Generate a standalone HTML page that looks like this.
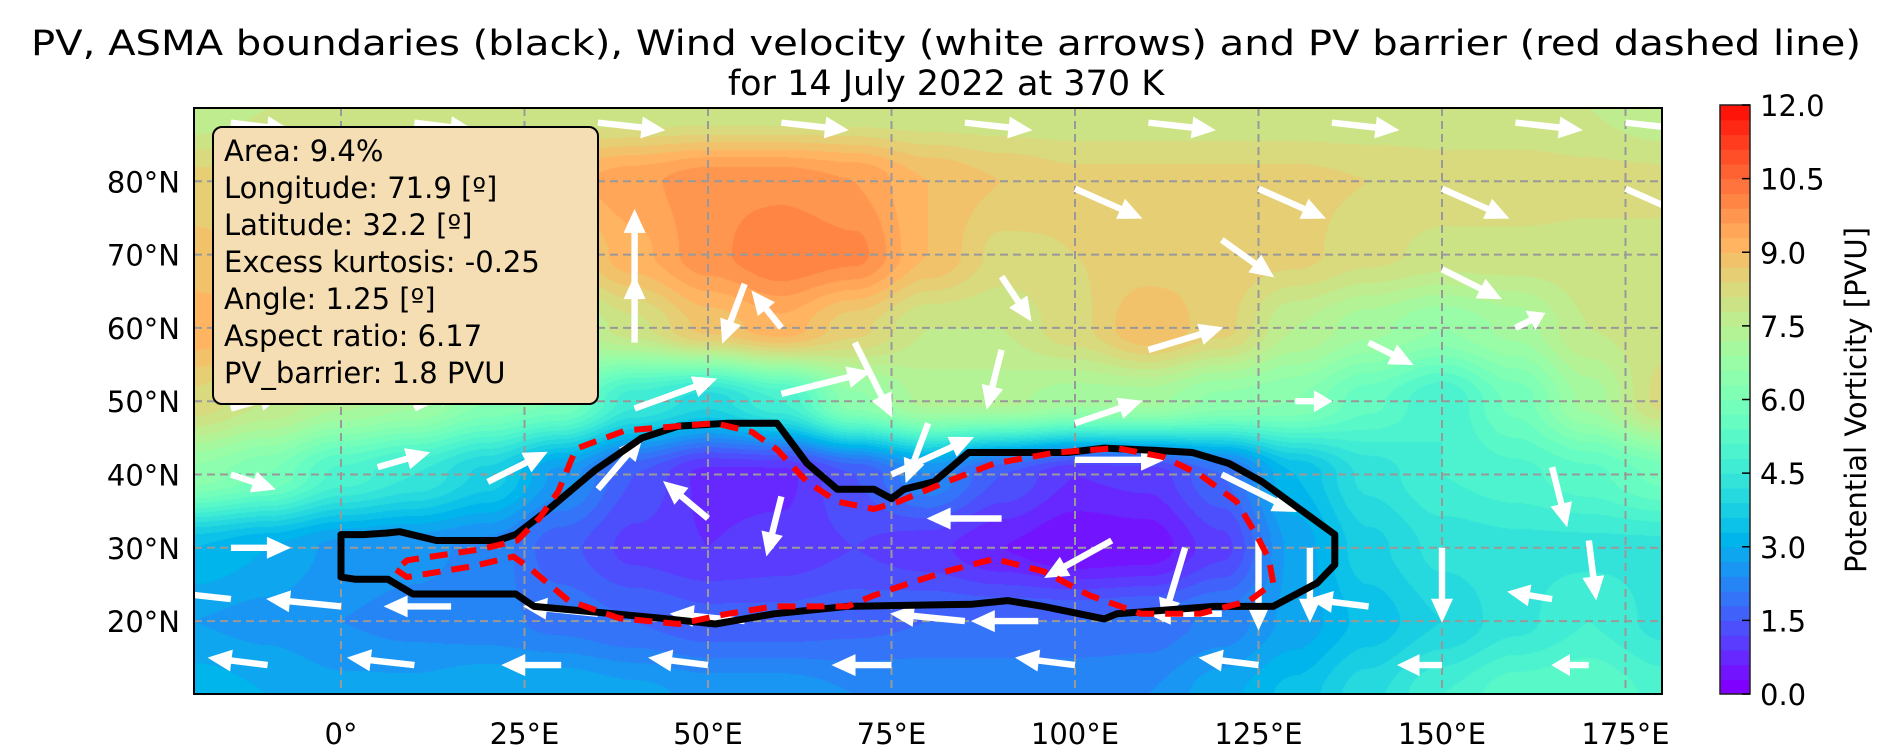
<!DOCTYPE html>
<html><head><meta charset="utf-8">
<style>
html,body{margin:0;padding:0;background:#fff;}
#wrap{position:relative;width:1892px;height:750px;overflow:hidden;font-family:"DejaVu Sans","Liberation Sans",sans-serif;}
#pv{position:absolute;left:194px;top:108px;}
#ov{position:absolute;left:0;top:0;}
</style></head>
<body>
<div id="wrap">
<canvas id="pv" width="1468" height="586"></canvas>
<svg id="ov" width="1892" height="750" xmlns="http://www.w3.org/2000/svg">
<text x="946" y="55" text-anchor="middle" font-size="35" textLength="1830" lengthAdjust="spacingAndGlyphs">PV, ASMA boundaries (black), Wind velocity (white arrows) and PV barrier (red dashed line)</text>
<text x="946" y="95" text-anchor="middle" font-size="35">for 14 July 2022 at 370 K</text>
<g id="grid"></g>
<g id="arrows"></g>
<g id="bounds"></g>
<rect x="194" y="108" width="1468" height="586" fill="none" stroke="#000" stroke-width="2"/>
<g id="ticks"></g>
<g>
<rect x="213" y="127" width="385" height="277" rx="9" fill="#f5deb3" stroke="#000" stroke-width="2"/>
<g font-size="29" fill="#000">
<text x="224" y="161">Area: 9.4%</text>
<text x="224" y="198">Longitude: 71.9 [º]</text>
<text x="224" y="235">Latitude: 32.2 [º]</text>
<text x="224" y="272">Excess kurtosis: -0.25</text>
<text x="224" y="309">Angle: 1.25 [º]</text>
<text x="224" y="346">Aspect ratio: 6.17</text>
<text x="224" y="383">PV_barrier: 1.8 PVU</text>
</g></g>
<g id="cbar"></g>
<text transform="translate(1866,400) rotate(-90)" text-anchor="middle" font-size="29">Potential Vorticity [PVU]</text>
</svg>
</div>
<script>
// ---- data ----
const gridLons = [-20,-10,0,10,20,30,40,50,60,70,80,90,100,110,120,130,140,150,160,170,180];
const gridLats = [90,80,70,60,50,40,30,20,10];
const pv90 = [7.5,7.8,7.8,7.8,7.8,7.8,7.8,7.8,7.8,7.8,7.8,7.8,7.8,7.8,7.8,7.8,7.8,7.8,7.8,7.8,7.5];
const pv80 = [8.5,8.5,8.6,8.8,9.0,9.2,9.5,9.8,9.8,9.6,9.0,8.7,8.5,8.5,8.5,8.5,8.4,8.3,8.3,8.2,8.2];
const pv70 = [8.8,8.6,8.5,8.5,8.3,8.5,9.2,9.8,10.2,10.0,9.0,8.3,8.4,8.5,8.6,8.5,8.2,8.0,8.0,8.0,8.0];
const pv60 = [9.2,9.0,8.3,7.8,7.5,7.3,8.0,8.8,9.2,8.5,7.8,7.8,8.3,9.0,8.5,7.5,7.0,6.6,7.0,7.8,8.0];
const pv50 = [8.3,7.8,7.3,7.0,6.3,6.0,4.6,4.0,4.8,6.5,7.3,7.3,7.0,7.0,6.5,6.3,5.5,4.8,5.8,7.0,8.2];
const pv40 = [6.5,6.0,5.0,4.5,3.8,2.6,1.5,0.8,0.8,1.5,2.4,1.5,0.9,1.0,1.8,3.3,4.3,4.8,5.0,5.3,5.8];
const pv30 = [3.3,3.0,2.6,2.5,2.3,1.6,1.1,0.9,1.0,1.2,1.0,0.6,0.3,0.4,1.1,2.8,3.8,4.3,4.4,4.4,4.4];
const pv20 = [2.7,2.6,2.4,2.3,2.2,2.0,1.8,1.6,1.6,1.7,1.8,1.8,1.8,1.9,2.2,2.8,3.4,3.9,4.4,4.8,4.4];
const pv10 = [3.2,3.0,2.8,2.8,3.0,3.0,2.8,2.6,2.6,2.4,2.4,2.4,2.4,2.4,2.9,3.4,4.1,4.8,5.3,5.4,5.0];
const pvRows = [pv90,pv80,pv70,pv60,pv50,pv40,pv30,pv20,pv10];

const asmaLon = [0,0,2,6.4,9.8,23.8,26.3,43.6,51,59,69,86,90.8,95.7,104,105.7,119,127,133,135.4,135.4,131,125.5,121,116,110.6,104,99,85.5,80.8,76.7,75,72.6,67.6,63.5,59.4,52.7,46,41,34.5,28,23.8,21.3,13,8,6.1,3];
const asmaLat = [31.8,26,25.7,25.7,23.7,23.7,22,20.4,19.6,21,22,22.3,22.8,22,20.3,21,22,22,25.2,27.7,31.8,35,39,41.5,43,43.3,43.6,43,43,39,38,36.7,38,38,41.5,47,47,46.6,45,40.5,35,31.8,31,31,32.2,32,31.8];
const barLon = [7.5,9,18,23.5,26,31,37.9,46,52.7,59,66,69,72.6,77.5,82.5,89,95.7,102,109,117,123.8,127,126.4,124.7,122,117,112,105.7,97.4,89,82.5,76,72.6,67.6,63.5,59.4,56,51,46,38.7,32,29.6,27,24,19,9];
const barLat = [27,26,27.5,28.8,27,22.8,20.4,19.6,21,22,22,22,23.5,25.2,26.8,28.5,26.8,23.5,21,21,22.8,25.2,28.5,31.8,36.3,40,42.4,43.6,43,41.5,39,36.3,35.3,36.3,39,43.4,45.8,47,46.6,46,43.5,37.7,34,31,29.8,28.3];

const arrLon = [-15,10,35,60,85,110,135,160,175, 100,125,150,175,120, 40,55,90,150, 40,60,70,90,110,140,160, -15,10,40,60,80,100,130, -15,5,20,35,75,100,120,165, -15,50,60,90,105,115,125,132,150,170, -15,0,15,35,55,85,95,120,140,165, -10,10,30,50,75,100,125,150,170];
const arrLat = [88,88,88,88,88,88,88,88,88, 79,79,79,79,72, 66,66,67,68, 58,60,58,57,57,58,60, 49,49,49,51,47,47,50, 40,41,39,38,40,42,40,41, 30,34,37,34,31,30,31,30,30,31, 23,22,22,21,20,20,20,21,22,23, 14,14,14,14,14,14,14,14,14];
const arrU = [8,8,9,9,9,9,9,9,9, 9,9,9,9,7, 0,-3,4,8, 0,-4,5,-2,10,6,4, 7,6,11,12,-3,9,5, 6,7,8,6,11,12,10,2, 8,-6,-2,-10,-9,-3,0,0,0,1, -9,-10,-9,-10,-10,-10,-9,-10,-8,-6, -8,-9,-8,-8,-8,-8,-8,-6,-5];
const arrV = [-1,-1,-1,-1,-1,-1,-1,-1,-1, -4,-4,-4,-4,-5, 10,-8,-6,-4, 9,5,-10,-8,3,-3,2, 2,3,4,3,-8,3,0, -2,2,4,7,5,0,-5,-8, 0,5,-8,0,-5,-10,-12,-10,-10,-8, 1,1,0,1,1,1,0,0,1,1, 1,1,0,1,0,1,1,0,0];

const cbTicks = [0,1.5,3,4.5,6,7.5,9,10.5,12];
const lonTicks = [0,25,50,75,100,125,150,175];
const lonLabels = ["0°","25°E","50°E","75°E","100°E","125°E","150°E","175°E"];
const latTicks = [20,30,40,50,60,70,80];
const latLabels = ["20°N","30°N","40°N","50°N","60°N","70°N","80°N"];

// ---- axes ----
const X = lon => 341 + 7.34*lon;
const Y = lat => 108 + (90-lat)*7.33;
const NS = "http://www.w3.org/2000/svg";
function rainbow(v){
  let x = Math.max(0,Math.min(1,v/12));
  x = Math.floor(x*40)/40;
  const r = Math.min(1,Math.abs(2*x-0.5)), g = Math.sin(Math.PI*x), b = Math.cos(Math.PI*x/2);
  return [Math.round(r*255),Math.round(g*255),Math.round(Math.max(0,b)*255)];
}
function mk(tag, attrs, parent){
  const e = document.createElementNS(NS, tag);
  for (const k in attrs) e.setAttribute(k, attrs[k]);
  parent.appendChild(e); return e;
}

// ---- PV field ----
(function(){
  const c = document.getElementById('pv'), ctx = c.getContext('2d');
  const W = c.width, H = c.height, img = ctx.createImageData(W,H);
  for (let py=0; py<H; py++){
    const lat = 90 - (py+0.5)/7.33;
    let fi = (90-lat)/10; let i0 = Math.min(7,Math.floor(fi)); let ty = fi - i0;
    for (let px=0; px<W; px++){
      const lon = -20 + (px+0.5)/7.34;
      let fj = (lon+20)/10; let j0 = Math.min(19,Math.floor(fj)); let tx = fj - j0;
      const a = pvRows[i0][j0], b = pvRows[i0][j0+1], cc = pvRows[i0+1][j0], d = pvRows[i0+1][j0+1];
      const sx = tx*tx*(3-2*tx), sy = ty*ty*(3-2*ty);
      const v = (a*(1-sx)+b*sx)*(1-sy) + (cc*(1-sx)+d*sx)*sy;
      const col = rainbow(v), k = (py*W+px)*4;
      img.data[k]=col[0]; img.data[k+1]=col[1]; img.data[k+2]=col[2]; img.data[k+3]=255;
    }
  }
  ctx.putImageData(img,0,0);
})();

// ---- grid & ticks ----
const grid = document.getElementById('grid'), ticks = document.getElementById('ticks');
lonTicks.forEach((lon,i)=>{
  const l = mk('line',{x1:X(lon),x2:X(lon),y1:108,y2:694,stroke:'#999','stroke-width':2,'stroke-dasharray':'8 5'},grid);
  
  
  const t = mk('text',{x:X(lon),y:744,'text-anchor':'middle','font-size':29},ticks);
  t.textContent = lonLabels[i];
  
  
});
latTicks.forEach((lat,i)=>{
  const l = mk('line',{x1:194,x2:1662,y1:Y(lat),y2:Y(lat),stroke:'#999','stroke-width':2,'stroke-dasharray':'8 5'},grid);
  
  
  const t = mk('text',{x:180,y:Y(lat)+11,'text-anchor':'end','font-size':29},ticks);
  t.textContent = latLabels[i];
  
  
});

// ---- arrows ----
const ag = document.getElementById('arrows');
for (let i=0;i<arrLon.length;i++){
  const x0 = X(arrLon[i]), y0 = Y(arrLat[i]);
  const dx = arrU[i]*7.5, dy = -arrV[i]*7.5, L = Math.hypot(dx,dy);
  if (L<1) continue;
  const ux = dx/L, uy = dy/L, nx = -uy, ny = ux;
  const hl = Math.min(24,L*0.5), sw = 3.2, hw = 11;
  const bx = x0+ux*(L-hl), by = y0+uy*(L-hl);
  const pts = [[x0+nx*sw,y0+ny*sw],[bx+nx*sw,by+ny*sw],[bx+nx*hw,by+ny*hw],[x0+dx,y0+dy],[bx-nx*hw,by-ny*hw],[bx-nx*sw,by-ny*sw],[x0-nx*sw,y0-ny*sw]];
  const p = mk('polygon',{points:pts.map(q=>q[0].toFixed(1)+','+q[1].toFixed(1)).join(' '),fill:'#fff'},ag);
  
  
}

// ---- boundaries ----
const bg = document.getElementById('bounds');
const asma = mk('polygon',{points:asmaLon.map((l,i)=>X(l).toFixed(1)+','+Y(asmaLat[i]).toFixed(1)).join(' '),fill:'none',stroke:'#000','stroke-width':7,'stroke-linejoin':'round'},bg);


const bar = mk('polygon',{points:barLon.map((l,i)=>X(l).toFixed(1)+','+Y(barLat[i]).toFixed(1)).join(' '),fill:'none',stroke:'#f00','stroke-width':6,'stroke-dasharray':'18 11','stroke-linejoin':'round'},bg);



// ---- colorbar ----
const cb = document.getElementById('cbar');
const cbTop = 105, cbBot = 694, cbX = 1720, cbW = 30;
const CY = v => cbBot - (v/12)*(cbBot-cbTop);
for (let k=0;k<40;k++){
  const v0 = k*0.3, col = rainbow(v0+0.15);
  const r = mk('rect',{x:cbX,y:CY(v0+0.3),width:cbW,height:CY(v0)-CY(v0+0.3)+0.6,fill:'rgb('+col.join(',')+')'},cb);
  
  
}
const cbf = mk('rect',{x:cbX,y:cbTop,width:cbW,height:cbBot-cbTop,fill:'none',stroke:'#222','stroke-width':1.5},cb);


cbTicks.forEach(v=>{
  mk('line',{x1:cbX+cbW-8,x2:cbX+cbW,y1:CY(v),y2:CY(v),stroke:'#000','stroke-width':1.5},cb);
  const t = mk('text',{x:1760,y:CY(v)+11,'font-size':29},cb);
  t.textContent = v.toFixed(1);
  
  
});
</script>
</body></html>
